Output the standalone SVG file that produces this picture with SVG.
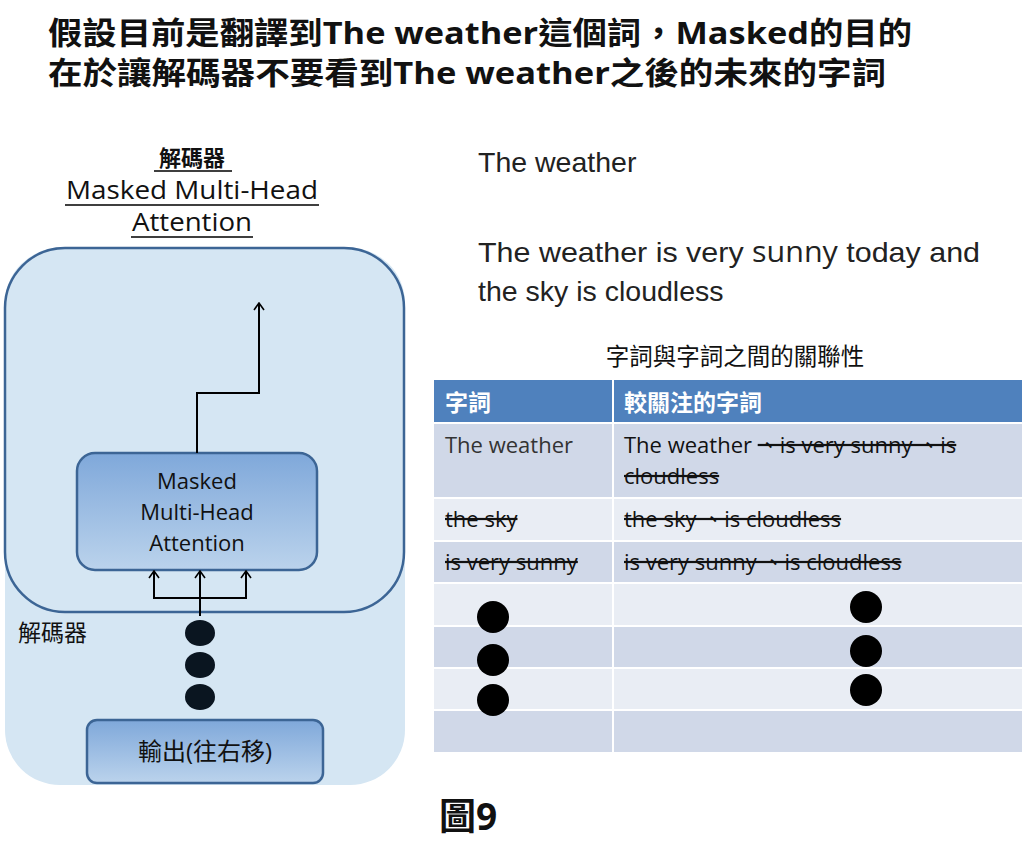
<svg xmlns="http://www.w3.org/2000/svg" width="1024" height="865" viewBox="0 0 1024 865">
<defs>
<linearGradient id="g" x1="0" y1="0" x2="0" y2="1"><stop offset="0" stop-color="#7FA8DA"/><stop offset="1" stop-color="#BBD3EC"/></linearGradient>
<marker id="a" markerWidth="12" markerHeight="12" refX="11" refY="6" orient="auto-start-reverse" markerUnits="userSpaceOnUse" viewBox="0 0 12 12"><path d="M4,1 L11,6 L4,11" fill="none" stroke="#000" stroke-width="1.6"/></marker>
</defs>
<style>
text{font-family:"Open Sans","Noto Sans CJK TC",sans-serif;fill:#111}
.t{font-family:"Liberation Sans","Noto Sans CJK TC",sans-serif;font-size:28.5px;fill:#222}
.c{font-size:22px}
.s{text-decoration:line-through}
.ln{fill:none;stroke:#000;stroke-width:2}
</style>
<rect width="1024" height="865" fill="#fff"/>
<text x="48" y="44" font-size="31" font-weight="bold" textLength="864" lengthAdjust="spacingAndGlyphs">假設目前是翻譯到The weather這個詞，Masked的目的</text>
<text x="48" y="84" font-size="31" font-weight="bold" textLength="838" lengthAdjust="spacingAndGlyphs">在於讓解碼器不要看到The weather之後的未來的字詞</text>
<g id="title" text-anchor="middle" font-size="25">
<text x="192" y="166" font-weight="bold" font-size="22">解碼器</text>
<text x="192" y="199" textLength="252" lengthAdjust="spacingAndGlyphs">Masked Multi-Head</text>
<text x="192" y="231" textLength="120" lengthAdjust="spacingAndGlyphs">Attention</text>
<path d="M154 171H232M65 205H319M131 237H253" stroke="#000" stroke-width="1.5"/>
</g>
<g id="decoder">
<rect x="5" y="248" width="400" height="537" rx="55" fill="#D5E6F3"/>
<rect x="5" y="248" width="399" height="364" rx="60" fill="none" stroke="#3C6595" stroke-width="2.5"/>
<text x="18" y="641" font-size="23">解碼器</text>
</g>
<g id="mmha"><rect x="77" y="453" width="240" height="117" rx="18" fill="url(#g)" stroke="#3C6595" stroke-width="2.5"/>
<text text-anchor="middle" font-size="22"><tspan x="197" y="489">Masked</tspan><tspan x="197" y="520">Multi-Head</tspan><tspan x="197" y="551">Attention</tspan></text></g>
<g id="out"><rect x="87" y="720" width="236" height="63" rx="10" fill="url(#g)" stroke="#3C6595" stroke-width="2.5"/>
<text x="205" y="760" text-anchor="middle" font-size="24">輸出(往右移)</text></g>
<g id="dots" fill="#0A1520"><ellipse cx="200" cy="633" rx="15" ry="13"/><ellipse cx="200" cy="665" rx="15" ry="13"/><ellipse cx="200" cy="697" rx="15" ry="13"/></g>
<g id="connectors">
<path class="ln" d="M197 453V393H259V303" marker-end="url(#a)"/>
<path class="ln" d="M200 616V571" marker-end="url(#a)"/>
<path class="ln" d="M154 571V598H246V571" marker-start="url(#a)" marker-end="url(#a)"/>
</g>
<text class="t" x="478" y="172">The weather</text>
<text class="t" x="478" y="262" textLength="502" lengthAdjust="spacingAndGlyphs">The weather is very <tspan font-family="Open Sans">sunny</tspan> today and</text>
<text class="t" x="478" y="301">the sky is cloudless</text>
<text x="735" y="365" text-anchor="middle" font-size="23.5">字詞與字詞之間的關聯性</text>
<g id="table">
<rect x="434" y="380" width="588" height="42" fill="#4F81BD"/>
<rect x="434" y="424" width="588" height="73" fill="#D0D8E8"/>
<rect x="434" y="499" width="588" height="41" fill="#E9EDF4"/>
<rect x="434" y="542" width="588" height="40" fill="#D0D8E8"/>
<rect x="434" y="584" width="588" height="41" fill="#E9EDF4"/>
<rect x="434" y="627" width="588" height="40" fill="#D0D8E8"/>
<rect x="434" y="669" width="588" height="40" fill="#E9EDF4"/>
<rect x="434" y="711" width="588" height="41" fill="#D0D8E8"/>
<path d="M613 380V752" stroke="#fff" stroke-width="2"/>
<text x="445" y="411" font-size="23" font-weight="bold" style="fill:#fff">字詞</text>
<text x="624" y="411" font-size="23" font-weight="bold" style="fill:#fff">較關注的字詞</text>
<text class="c" x="445" y="453" style="fill:#333">The weather</text>
<text class="c" x="624" y="453">The weather <tspan class="s">、is very sunny 、is</tspan></text>
<text class="c s" x="624" y="484">cloudless</text>
<text class="c s" x="445" y="527">the sky</text>
<text class="c s" x="624" y="527">the sky 、is cloudless</text>
<text class="c s" x="445" y="570">is very sunny</text>
<text class="c s" x="624" y="570">is very sunny 、is cloudless</text>
<g fill="#000"><circle cx="493" cy="617" r="16"/><circle cx="493" cy="660" r="16"/><circle cx="493" cy="700" r="16"/><circle cx="866" cy="607" r="16"/><circle cx="866" cy="651" r="16"/><circle cx="866" cy="690" r="16"/></g>
</g>
<text x="468" y="830" text-anchor="middle" font-size="37" font-weight="bold">圖9</text>
</svg>
